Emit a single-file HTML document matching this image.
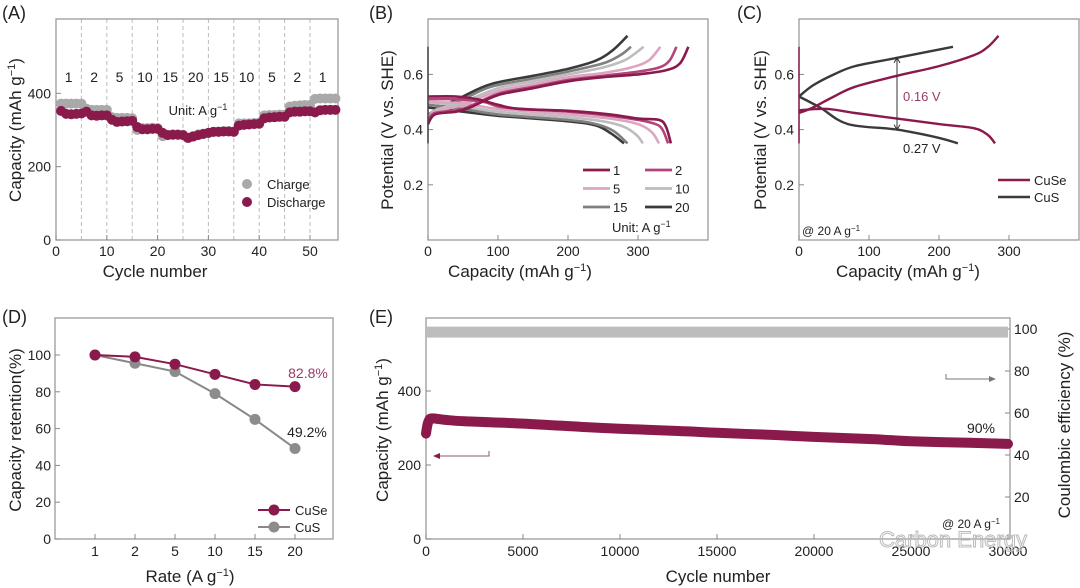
<!DOCTYPE html>
<html><head><meta charset="utf-8"><style>
html,body{margin:0;padding:0;background:#fff;}
svg{display:block;font-family:"Liberation Sans",Arial,sans-serif;}
</style></head><body>
<svg id="fig" width="1080" height="588" viewBox="0 0 1080 588" xmlns="http://www.w3.org/2000/svg">
<g font-size="18" fill="#222">
<text x="2" y="19">(A)</text>
<text x="369" y="19">(B)</text>
<text x="737" y="19">(C)</text>
<text x="2" y="323">(D)</text>
<text x="369" y="323">(E)</text>
</g>
<g font-size="17" fill="#222">
<text x="155" y="277" text-anchor="middle">Cycle number</text>
<text transform="translate(21,130) rotate(-90)" text-anchor="middle">Capacity (mAh g<tspan baseline-shift="super" font-size="11">−1</tspan>)</text>
<text x="520" y="277" text-anchor="middle">Capacity (mAh g<tspan baseline-shift="super" font-size="11">−1</tspan>)</text>
<text transform="translate(393,130) rotate(-90)" text-anchor="middle">Potential (V vs. SHE)</text>
<text x="908" y="277" text-anchor="middle">Capacity (mAh g<tspan baseline-shift="super" font-size="11">−1</tspan>)</text>
<text transform="translate(766,130) rotate(-90)" text-anchor="middle">Potential (V vs. SHE)</text>
<text x="190" y="582" text-anchor="middle">Rate (A g<tspan baseline-shift="super" font-size="11">−1</tspan>)</text>
<text transform="translate(21,430) rotate(-90)" text-anchor="middle">Capacity retention(%)</text>
<text x="718" y="582" text-anchor="middle">Cycle number</text>
<text transform="translate(388,430) rotate(-90)" text-anchor="middle">Capacity (mAh g<tspan baseline-shift="super" font-size="11">−1</tspan>)</text>
<text transform="translate(1070,425) rotate(-90)" text-anchor="middle">Coulombic efficiency (%)</text>
</g>
</svg>
<script>
// ---------- Panel A data ----------
const aCycles = Array.from({length:55},(_,i)=>i+1);
const aCharge = [372,372,372,372,372,358,355,355,355,355,335,333,333,333,332,300,305,305,306,305,283,287,288,288,287,280,284,288,290,292,295,296,297,297,296,318,318,318,319,320,340,341,341,342,342,364,366,367,368,368,385,386,386,386,386];
const aDischarge = [352,344,343,344,345,350,340,339,340,340,328,322,323,324,325,308,302,302,303,303,292,286,287,287,286,278,282,286,289,292,295,295,296,296,295,312,314,315,316,317,332,334,335,336,336,348,350,350,351,351,348,354,355,355,355];
const aRateLabels = ["1","2","5","10","15","20","15","10","5","2","1"];
const aXTicks = [0,10,20,30,40,50];
const aYTicks = [0,200,400];
// ---------- Panel B data ----------
const bRates = ["1","2","5","10","15","20"];
const bColors = ["#8a1a4c","#b2447c","#dca6c1","#bdbdbd","#7f7f7f","#3a3a3a"];
const bCharge1 = [[0,0.42],[10,0.455],[40,0.465],[60,0.48],[100,0.525],[150,0.55],[200,0.575],[250,0.59],[300,0.6],[340,0.615],[360,0.64],[372,0.7]];
const bCharge2 = [[0,0.43],[10,0.46],[50,0.475],[100,0.53],[150,0.555],[200,0.58],[250,0.595],[300,0.61],[330,0.625],[345,0.65],[355,0.7]];
const bCharge5 = [[0,0.44],[10,0.465],[50,0.49],[100,0.54],[150,0.565],[200,0.59],[250,0.605],[290,0.625],[315,0.65],[332,0.7]];
const bCharge10 = [[0,0.44],[10,0.47],[50,0.5],[100,0.55],[150,0.575],[200,0.6],[250,0.625],[280,0.65],[298,0.68],[308,0.7]];
const bCharge15 = [[0,0.44],[10,0.47],[50,0.51],[90,0.555],[150,0.585],[200,0.61],[250,0.64],[275,0.67],[290,0.7]];
const bCharge20 = [[0,0.45],[10,0.47],[50,0.52],[90,0.565],[150,0.595],[200,0.62],[240,0.65],[265,0.69],[285,0.74]];
const bDis1 = [[0,0.52],[40,0.52],[70,0.51],[100,0.49],[130,0.475],[200,0.468],[260,0.455],[300,0.44],[330,0.435],[340,0.41],[347,0.35]];
const bDis2 = [[0,0.51],[40,0.51],[80,0.5],[110,0.48],[200,0.465],[260,0.45],[300,0.435],[325,0.42],[335,0.4],[343,0.35]];
const bDis5 = [[0,0.5],[50,0.495],[100,0.475],[200,0.455],[260,0.44],[300,0.42],[320,0.39],[330,0.35]];
const bDis10 = [[0,0.5],[50,0.485],[100,0.465],[200,0.445],[250,0.43],[280,0.41],[298,0.38],[307,0.35]];
const bDis15 = [[0,0.49],[50,0.475],[100,0.455],[200,0.435],[240,0.42],[265,0.395],[285,0.35]];
const bDis20 = [[0,0.48],[50,0.465],[100,0.45],[200,0.43],[240,0.415],[262,0.385],[280,0.35]];
const bXTicks = [0,100,200,300];
const bYTicks = [0.2,0.4,0.6];
// ---------- Panel C data ----------
const cCuSeCharge = [[0,0.46],[20,0.48],[50,0.52],[80,0.555],[140,0.595],[200,0.63],[250,0.67],[270,0.7],[285,0.74]];
const cCuSeDis = [[0,0.47],[40,0.475],[80,0.46],[140,0.44],[200,0.42],[250,0.405],[270,0.38],[280,0.35]];
const cCuSCharge = [[0,0.52],[20,0.56],[50,0.6],[80,0.63],[140,0.66],[220,0.7]];
const cCuSDis = [[0,0.52],[30,0.48],[70,0.42],[140,0.40],[200,0.37],[227,0.35]];
// ---------- Panel D data ----------
const dRates = ["1","2","5","10","15","20"];
const dCuSe = [100,99,95,89.5,84,82.8];
const dCuS = [100,95.5,91,79,65,49.2];
const dYTicks = [0,20,40,60,80,100];
// ---------- Panel E data ----------
const eCycles = [0,60,150,300,1000,2000,5000,8000,10000,13000,15000,18000,20000,23000,25000,28000,30000];
const eCapacity = [285,305,320,326,322,318,312,303,298,292,287,281,276,270,264,260,257];
const eCE = [98.5,98.5,98.5,98.5,98.5,98.5,98.5,98.5,98.5,98.5,98.5,98.5,98.5,98.5,98.5,98.5,98.5];
const eXTicks = [0,5000,10000,15000,20000,25000,30000];
const eYTicksL = [0,200,400];
const eYTicksR = [20,40,60,80,100];

const svg = document.getElementById('fig');
const NS = 'http://www.w3.org/2000/svg';
function mk(tag, attrs, name, parent){
  const el = document.createElementNS(NS, tag);
  for (const k in attrs) el.setAttribute(k, attrs[k]);
  
  
  (parent||svg).appendChild(el);
  return el;
}
function txt(x,y,s,name,opt){
  opt = opt||{};
  const el = mk('text',{x:x,y:y,'font-size':opt.fs||14,'text-anchor':opt.anchor||'middle',fill:opt.fill||'#222'},name);
  el.textContent = s;
  return el;
}
function smooth(pts){
  let d = 'M'+pts[0][0].toFixed(1)+','+pts[0][1].toFixed(1);
  for(let i=0;i<pts.length-1;i++){
    const p0=pts[Math.max(0,i-1)],p1=pts[i],p2=pts[i+1],p3=pts[Math.min(pts.length-1,i+2)];
    const c1=[p1[0]+(p2[0]-p0[0])/6,p1[1]+(p2[1]-p0[1])/6];
    const c2=[p2[0]-(p3[0]-p1[0])/6,p2[1]-(p3[1]-p1[1])/6];
    d+=' C'+c1[0].toFixed(1)+','+c1[1].toFixed(1)+' '+c2[0].toFixed(1)+','+c2[1].toFixed(1)+' '+p2[0].toFixed(1)+','+p2[1].toFixed(1);
  }
  return d;
}
function box(x0,y0,x1,y1,name){
  mk('rect',{x:x0,y:y0,width:x1-x0,height:y1-y0,fill:'none',stroke:'#9a9a9a','stroke-width':1.3},name);
}
const MAG='#8a1a4c', GRY='#a9a9a9';

// ===== Panel A =====
const ax = v=>56+v*5.08, ay = v=>240-v*0.3667;
for(let k=5;k<=50;k+=5){ mk('line',{x1:ax(k),x2:ax(k),y1:19,y2:240,stroke:'#bbb','stroke-dasharray':'4,3','stroke-width':1},'a-rate-divider'); }
box(56,19,338,240,'a-plot-frame');
aXTicks.forEach(t=>{ mk('line',{x1:ax(t),x2:ax(t),y1:240,y2:235,stroke:'#888'},'a-x-tick'); txt(ax(t),256,String(t),'a-x-tick-label'); });
aYTicks.forEach(t=>{ mk('line',{x1:56,x2:61,y1:ay(t),y2:ay(t),stroke:'#888'},'a-y-tick'); txt(51,ay(t)+5,String(t),'a-y-tick-label',{anchor:'end'}); });
aRateLabels.forEach((s,i)=>txt(ax(2.5+5*i),82,s,'a-rate-label',{fs:14}));
txt(198,115,'Unit: A g','a-unit-label',{fs:13}).innerHTML='Unit: A g<tspan baseline-shift="super" font-size="9">−1</tspan>';
aCycles.forEach((c,i)=>mk('circle',{cx:ax(c),cy:ay(aCharge[i]),r:5,fill:GRY},'a-charge-point'));
aCycles.forEach((c,i)=>mk('circle',{cx:ax(c),cy:ay(aDischarge[i]),r:5,fill:MAG},'a-discharge-point'));
mk('circle',{cx:247,cy:184,r:5,fill:GRY},'a-legend-charge-marker');
txt(267,189,'Charge','a-legend-charge-label',{anchor:'start',fs:13});
mk('circle',{cx:247,cy:202,r:5,fill:MAG},'a-legend-discharge-marker');
txt(267,207,'Discharge','a-legend-discharge-label',{anchor:'start',fs:13});

// ===== Panel B =====
const bx = v=>428+v*0.7, by = v=>240-v*276;
box(428,19,708,240,'b-plot-frame');
bXTicks.forEach(t=>{ mk('line',{x1:bx(t),x2:bx(t),y1:240,y2:235,stroke:'#888'},'b-x-tick'); txt(bx(t),256,String(t),'b-x-tick-label'); });
bYTicks.forEach(t=>{ mk('line',{x1:428,x2:433,y1:by(t),y2:by(t),stroke:'#888'},'b-y-tick'); txt(423,by(t)+5,t.toFixed(1),'b-y-tick-label',{anchor:'end'}); });
const bChargeSets=[bCharge1,bCharge2,bCharge5,bCharge10,bCharge15,bCharge20];
const bDisSets=[bDis1,bDis2,bDis5,bDis10,bDis15,bDis20];
for(let i=bRates.length-1;i>=0;i--){
  mk('path',{d:smooth(bChargeSets[i].map(p=>[bx(p[0]),by(p[1])])),fill:'none',stroke:bColors[i],'stroke-width':2.6},'b-charge-curve-'+bRates[i]);
  mk('path',{d:smooth(bDisSets[i].map(p=>[bx(p[0]),by(p[1])])),fill:'none',stroke:bColors[i],'stroke-width':2.6},'b-discharge-curve-'+bRates[i]);
}
mk('line',{x1:bx(0),x2:bx(0),y1:by(0.35),y2:by(0.7),stroke:'#444','stroke-width':1.5},'b-initial-vertical');
bRates.forEach((r,i)=>{
  const col=i%2, row=Math.floor(i/2);
  const lx = col===0?583:645, ly=170+row*18.5;
  mk('line',{x1:lx,x2:lx+27,y1:ly,y2:ly,stroke:bColors[i],'stroke-width':2.8},'b-legend-line');
  txt(lx+30,ly+5,r,'b-legend-label',{anchor:'start',fs:13});
});
txt(612,232,'','b-unit-label',{anchor:'start',fs:13}).innerHTML='Unit: A g<tspan baseline-shift="super" font-size="9">−1</tspan>';

// ===== Panel C =====
const cx = v=>799+v*0.7, cy = by;
box(799,19,1079,240,'c-plot-frame');
bXTicks.forEach(t=>{ mk('line',{x1:cx(t),x2:cx(t),y1:240,y2:235,stroke:'#888'},'c-x-tick'); txt(cx(t),256,String(t),'c-x-tick-label'); });
bYTicks.forEach(t=>{ mk('line',{x1:799,x2:804,y1:cy(t),y2:cy(t),stroke:'#888'},'c-y-tick'); txt(794,cy(t)+5,t.toFixed(1),'c-y-tick-label',{anchor:'end'}); });
[[cCuSCharge,'#3a3a3a','c-cus-charge'],[cCuSDis,'#3a3a3a','c-cus-discharge'],[cCuSeCharge,MAG,'c-cuse-charge'],[cCuSeDis,MAG,'c-cuse-discharge']].forEach(s=>{
  mk('path',{d:smooth(s[0].map(p=>[cx(p[0]),cy(p[1])])),fill:'none',stroke:s[1],'stroke-width':2.4},s[2]);
});
mk('line',{x1:cx(0),x2:cx(0),y1:cy(0.35),y2:cy(0.7),stroke:MAG,'stroke-width':1.5},'c-initial-vertical');
mk('line',{x1:cx(140),x2:cx(140),y1:cy(0.40),y2:cy(0.66),stroke:'#333','stroke-width':1},'c-gap-arrow');
mk('path',{d:`M${cx(140)-3},${cy(0.66)+5} L${cx(140)},${cy(0.66)} L${cx(140)+3},${cy(0.66)+5}`,fill:'none',stroke:'#333'},'c-arrow-head-top');
mk('path',{d:`M${cx(140)-3},${cy(0.40)-5} L${cx(140)},${cy(0.40)} L${cx(140)+3},${cy(0.40)-5}`,fill:'none',stroke:'#333'},'c-arrow-head-bottom');
txt(903,101,'0.16 V','c-annotation-016',{anchor:'start',fill:'#9a3a6c',fs:13});
txt(903,153,'0.27 V','c-annotation-027',{anchor:'start',fs:13});
mk('line',{x1:998,x2:1030,y1:180,y2:180,stroke:MAG,'stroke-width':2.6},'c-legend-cuse-line');
txt(1034,185,'CuSe','c-legend-cuse-label',{anchor:'start',fs:13});
mk('line',{x1:998,x2:1030,y1:197,y2:197,stroke:'#3a3a3a','stroke-width':2.6},'c-legend-cus-line');
txt(1034,202,'CuS','c-legend-cus-label',{anchor:'start',fs:13});
txt(802,235,'','c-condition-label',{anchor:'start',fs:12}).innerHTML='@ 20 A g<tspan baseline-shift="super" font-size="8">−1</tspan>';

// ===== Panel D =====
const dx = i=>95+i*40, dy = v=>539-v*1.84;
box(55,318,333,539,'d-plot-frame');
dRates.forEach((r,i)=>{ mk('line',{x1:dx(i),x2:dx(i),y1:539,y2:534,stroke:'#888'},'d-x-tick'); txt(dx(i),556,r,'d-x-tick-label'); });
dYTicks.forEach(t=>{ mk('line',{x1:55,x2:60,y1:dy(t),y2:dy(t),stroke:'#888'},'d-y-tick'); txt(51,dy(t)+5,String(t),'d-y-tick-label',{anchor:'end'}); });
mk('polyline',{points:dCuS.map((v,i)=>dx(i)+','+dy(v)).join(' '),fill:'none',stroke:'#888','stroke-width':2},'d-cus-line');
dCuS.forEach((v,i)=>mk('circle',{cx:dx(i),cy:dy(v),r:5.5,fill:'#8c8c8c'},'d-cus-point'));
mk('polyline',{points:dCuSe.map((v,i)=>dx(i)+','+dy(v)).join(' '),fill:'none',stroke:MAG,'stroke-width':2},'d-cuse-line');
dCuSe.forEach((v,i)=>mk('circle',{cx:dx(i),cy:dy(v),r:5.5,fill:MAG},'d-cuse-point'));
txt(308,378,'82.8%','d-cuse-final-label',{fill:'#9a3a6c'});
txt(307,437,'49.2%','d-cus-final-label');
mk('line',{x1:258,x2:290,y1:510,y2:510,stroke:MAG,'stroke-width':2},'d-legend-cuse-line');
mk('circle',{cx:274,cy:510,r:5.5,fill:MAG},'d-legend-cuse-marker');
txt(295,515,'CuSe','d-legend-cuse-label',{anchor:'start',fs:13});
mk('line',{x1:258,x2:290,y1:527,y2:527,stroke:'#888','stroke-width':2},'d-legend-cus-line');
mk('circle',{cx:274,cy:527,r:5.5,fill:'#8c8c8c'},'d-legend-cus-marker');
txt(295,532,'CuS','d-legend-cus-label',{anchor:'start',fs:13});

// ===== Panel E =====
const ex = v=>426+v*582/30000, eyL = v=>539-v*0.37, eyR = v=>539-v*2.1;
box(426,318,1010,539,'e-plot-frame');
eXTicks.forEach(t=>{ mk('line',{x1:ex(t),x2:ex(t),y1:539,y2:534,stroke:'#888'},'e-x-tick'); txt(ex(t),556,String(t),'e-x-tick-label'); });
eYTicksL.forEach(t=>{ mk('line',{x1:426,x2:431,y1:eyL(t),y2:eyL(t),stroke:'#888'},'e-y-tick-left'); txt(421,eyL(t)+5,String(t),'e-y-tick-label-left',{anchor:'end'}); });
eYTicksR.forEach(t=>{ mk('line',{x1:1005,x2:1010,y1:eyR(t),y2:eyR(t),stroke:'#888'},'e-y-tick-right'); txt(1014,eyR(t)+5,String(t),'e-y-tick-label-right',{anchor:'start'}); });
mk('polyline',{points:eCycles.map((c,i)=>ex(c)+','+eyR(eCE[i])).join(' '),fill:'none',stroke:'#bdbdbd','stroke-width':11},'e-coulombic-efficiency-series');
mk('path',{d:smooth(eCycles.map((c,i)=>[ex(c),eyL(eCapacity[i])])),fill:'none',stroke:MAG,'stroke-width':10,'stroke-linecap':'round'},'e-capacity-series');
mk('polyline',{points:'489,451 489,456 434,456',fill:'none',stroke:'#8a5a70','stroke-width':1},'e-left-axis-arrow');
mk('path',{d:'M440,453 L433,456 L440,459 Z',fill:MAG},'e-left-arrow-head');
mk('polyline',{points:'946,374 946,379 995,379',fill:'none',stroke:'#777','stroke-width':1},'e-right-axis-arrow');
mk('path',{d:'M989,376 L996,379 L989,382 Z',fill:'#777'},'e-right-arrow-head');
txt(981,433,'90%','e-retention-label');
txt(1000,528,'','e-condition-label',{anchor:'end',fs:12}).innerHTML='@ 20 A g<tspan baseline-shift="super" font-size="8">−1</tspan>';
txt(953,547,'Carbon Energy','watermark',{fill:'none',fs:22}).setAttribute('stroke','#bbb');
</script>
</body></html>
